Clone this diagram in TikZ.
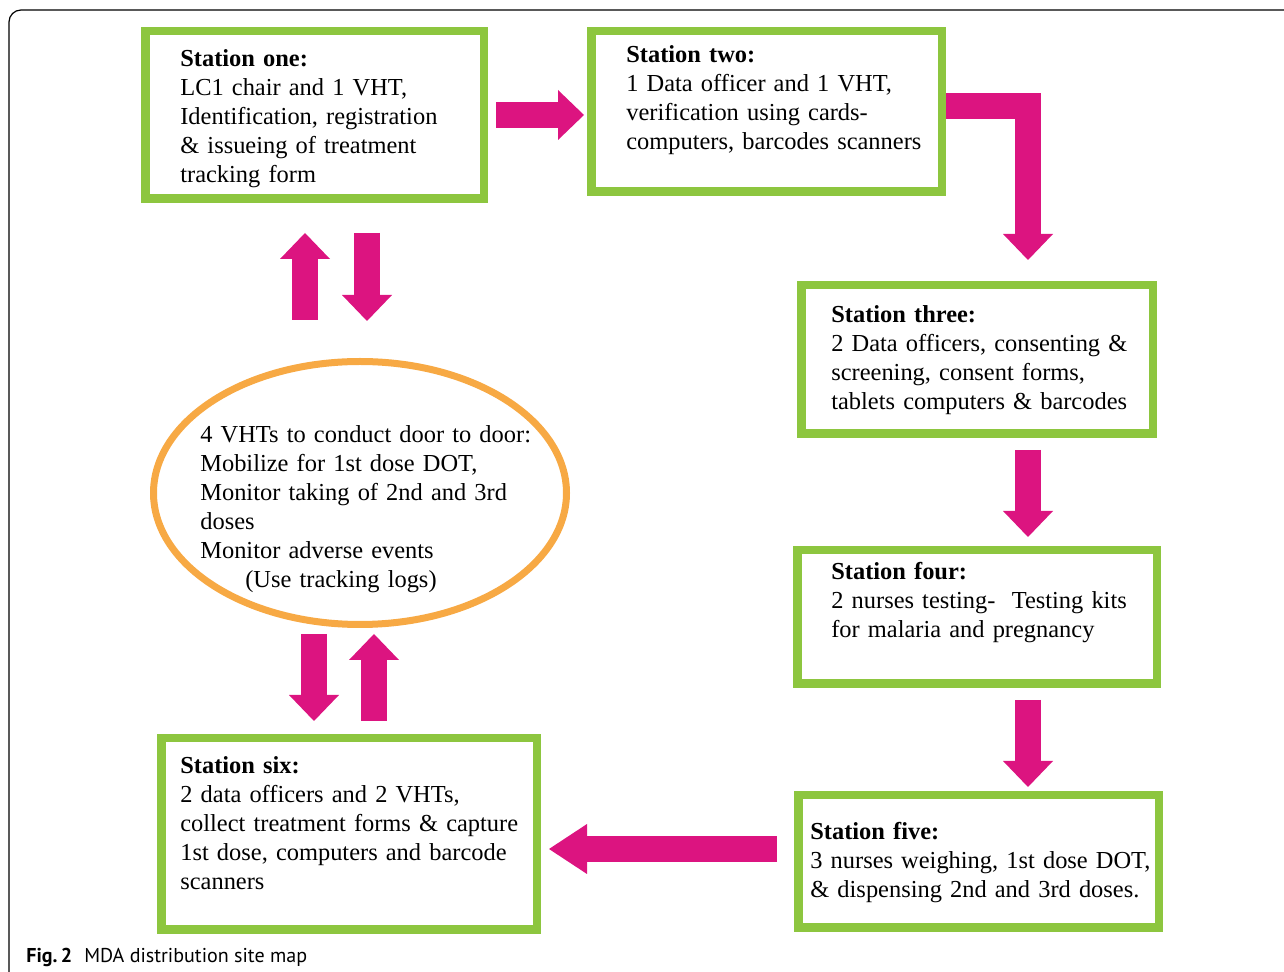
\documentclass[tikz,border=0pt]{standalone}
\usepackage{fontspec}
\setmainfont{Liberation Serif}
\newfontfamily\capfont{PT Sans}
\usetikzlibrary{shapes.geometric, arrows.meta, calc, positioning}
\definecolor{boxgreen}{RGB}{141,198,63}
\definecolor{arrowpink}{RGB}{220,20,128}
\definecolor{ovalorange}{RGB}{247,169,68}

\begin{document}
\begin{tikzpicture}[
		station/.style={draw=boxgreen, line width=0.17cm, rectangle, inner sep=0pt},
		stationtext/.style={anchor=base west, align=left, text width=7.2cm, inner sep=0pt, font=\fontsize{13.9}{16.45}\selectfont},
		oval/.style={draw=ovalorange, line width=0.14cm, ellipse, inner sep=0pt},
		blockarrow/.style={color=arrowpink, line width=0.52cm, line join=miter, -{Triangle[width=1cm, length=0.52cm, line width=0pt]}},
		frame/.style={draw=black, line width=0.7pt, rounded corners=0.24cm}
		]
		\useasboundingbox (0,0) rectangle (25.68,-19.44);
		\draw[frame] (0.18,-19.44) -- (0.18,-0.2) -- (25.68,-0.2);
		
		% Stations
		\node[station, minimum width=6.77cm, minimum height=3.35cm] (one) at (6.29,-2.30) {};
		\node[station, minimum width=7.01cm, minimum height=3.21cm] (two) at (15.33,-2.23) {};
		\node[station, minimum width=7.03cm, minimum height=2.97cm] (three) at (19.54,-7.19) {};
		\node[station, minimum width=7.19cm, minimum height=2.67cm] (four) at (19.54,-12.34) {};
		\node[station, minimum width=7.21cm, minimum height=2.65cm] (five) at (19.57,-17.23) {};
		\node[station, minimum width=7.51cm, minimum height=3.83cm] (six) at (6.98,-16.68) {};
		\node[oval, minimum width=8.26cm, minimum height=5.26cm] (vht) at (7.20,-9.86) {};
		
		\node[stationtext] (one_text) at (3.60,-1.34) {\textbf{Station one:}\\LC1 chair and 1 VHT,\\Identification, registration\\\& issueing of treatment\\tracking form};
		\node[stationtext] (two_text) at (12.52,-1.26) {\textbf{Station two:}\\1 Data officer and 1 VHT,\\verification using cards-\\computers, barcodes scanners};
		\node[stationtext] (three_text) at (16.62,-6.46) {\textbf{Station three:}\\2 Data officers, consenting \&\\screening, consent forms,\\tablets computers \& barcodes};
		\node[stationtext] (four_text) at (16.62,-11.60) {\textbf{Station four:}\\2 nurses testing-\ \ Testing kits\\for malaria and pregnancy};
		\node[stationtext] (five_text) at (16.20,-16.80) {\textbf{Station five:}\\3 nurses weighing, 1st dose DOT,\\\& dispensing 2nd and 3rd doses.};
		\node[stationtext] (six_text) at (3.60,-15.48) {\textbf{Station six:}\\2 data officers and 2 VHTs,\\collect treatment forms \& capture\\1st dose, computers and barcode\\scanners};
		\node[stationtext] (vht_text) at (4.00,-8.86) {4 VHTs to conduct door to door:\\Mobilize for 1st dose DOT,\\Monitor taking of 2nd and 3rd\\doses\\Monitor adverse events\\\hspace*{0.9cm}(Use tracking logs)};
		
		% Flow arrows
		\draw[blockarrow, shorten <=0.16cm, shorten >=0.06cm] (one.east) -- (one.east -| two.west);
		\draw[blockarrow, shorten >=0.42cm] ([yshift=0.11cm]two.east) -| ($(three.north)+(1.02,0)$);
		\coordinate (a34) at ($(three.south)+(1.02,0)$);
		\draw[blockarrow, shorten <=0.24cm, shorten >=0.18cm] (a34) -- (a34 |- four.north);
		\coordinate (a45) at ($(four.south)+(1.02,0)$);
		\draw[blockarrow, shorten <=0.24cm, shorten >=0.08cm] (a45) -- (a45 |- five.north);
		\coordinate (a56) at ($(five.west)+(0,0.25)$);
		\draw[blockarrow, -{Triangle[width=1cm, length=0.76cm, line width=0pt]}, shorten <=0.34cm, shorten >=0.16cm] (a56) -- (a56 -| six.east);
		
		% To and from the VHTs
		\coordinate (up1) at ($(vht.north)+(-1.1,0)$);
		\draw[blockarrow, shorten <=0.76cm, shorten >=0.6cm] (up1) -- (up1 |- one.south);
		\coordinate (dn1) at ($(vht.north)+(0.14,0)$);
		\draw[blockarrow, shorten <=0.6cm, shorten >=0.74cm] (dn1 |- one.south) -- (dn1);
		\coordinate (dn2) at ($(vht.south)+(-0.92,0)$);
		\draw[blockarrow, shorten <=0.12cm, shorten >=0.26cm] (dn2) -- (dn2 |- six.north);
		\coordinate (up2) at ($(vht.south)+(0.28,0)$);
		\draw[blockarrow, shorten <=0.26cm, shorten >=0.12cm] (up2 |- six.north) -- (up2);
		
		\node[anchor=base west, inner sep=0pt, font=\capfont\fontsize{11.4}{13}\selectfont] (caption) at (0.52,-19.26) {\textbf{Fig.\,2}\hspace{0.24cm}MDA distribution site map};
	\end{tikzpicture}
\end{document}
